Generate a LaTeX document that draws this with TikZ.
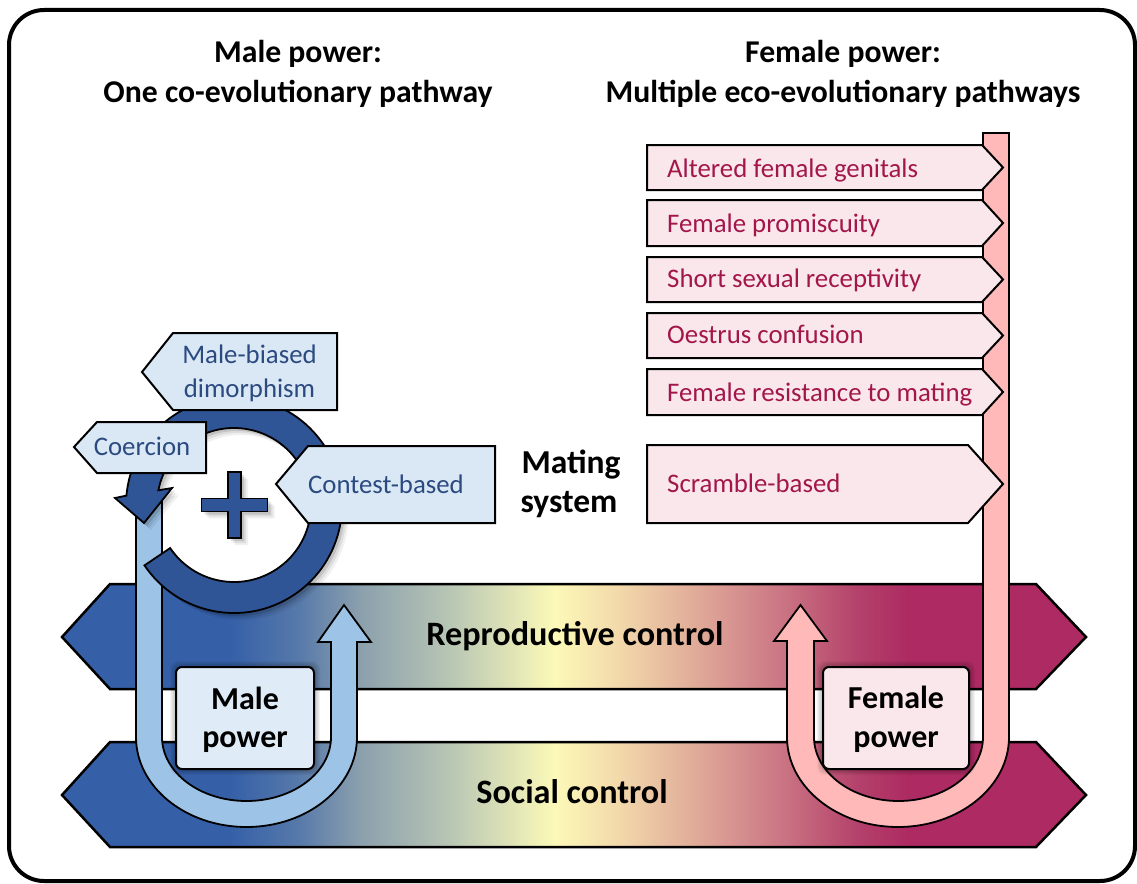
\documentclass[tikz,border=0pt]{standalone}
\usepackage{fontspec}
\setmainfont{Carlito}
\definecolor{barblue}{HTML}{3560A8}
\definecolor{gA}{HTML}{587AAA}
\definecolor{gB}{HTML}{8BA0AD}
\definecolor{gC}{HTML}{B8C6B4}
\definecolor{gD}{HTML}{FCF9B8}
\definecolor{gE}{HTML}{F2D8AA}
\definecolor{gF}{HTML}{DFA898}
\definecolor{gG}{HTML}{CB7684}
\definecolor{gH}{HTML}{B3406A}
\definecolor{barred}{HTML}{AD2A62}
\definecolor{ringblue}{HTML}{2F5597}
\definecolor{lightarrow}{HTML}{9DC3E6}
\definecolor{bluefill}{HTML}{DAE8F6}
\definecolor{bluetext}{HTML}{2B4A80}
\definecolor{pinkfill}{HTML}{F9E7EB}
\definecolor{pinktext}{HTML}{A3164A}
\definecolor{pinkarrow}{HTML}{FFB9B9}
\definecolor{malefill}{HTML}{DFEBF7}
\definecolor{femalefill}{HTML}{F9E7EC}
\pgfdeclarehorizontalshading{mfshade}{100bp}{color(0bp)=(barblue); color(25bp)=(barblue); color(33.2bp)=(barblue); color(36.6bp)=(gA); color(39.55bp)=(gB); color(43.95bp)=(gC); color(49.07bp)=(gD); color(52.25bp)=(gE); color(56.15bp)=(gF); color(60.06bp)=(gG); color(63.96bp)=(gH); color(66.4bp)=(barred); color(75bp)=(barred); color(100bp)=(barred)}
\begin{document}
\begin{tikzpicture}[x=1pt,y=-1pt,
  titletxt/.style={font=\fontsize{31.7}{39}\selectfont\bfseries, anchor=base, inner sep=0},
  boldtxt/.style={font=\fontsize{32}{40}\selectfont\bfseries, anchor=base, inner sep=0},
  bartxt/.style={font=\fontsize{34.2}{40}\selectfont\bfseries, anchor=base, inner sep=0},
  matetxt/.style={font=\fontsize{33.5}{40}\selectfont\bfseries, anchor=base, inner sep=0},
  pinktxt/.style={font=\fontsize{26.8}{32}\selectfont, text=pinktext, anchor=base west, inner sep=0},
  bluetxt/.style={font=\fontsize{26.8}{32}\selectfont, text=bluetext, anchor=base, inner sep=0},
  barshape/.style={shading=mfshade, draw=black, line width=2.5pt, line join=miter},
  pinkbox/.style={fill=pinkfill, draw=black, line width=2pt},
  bluebox/.style={fill=bluefill, draw=black, line width=2pt},
  uarrow/.style={draw=black, line width=1.8pt, line join=miter},
  powerbox/.style={draw=black, line width=2pt, rounded corners=6pt},
  ringpic/.pic={
    \path[pic actions] (144.5,565.4) arc[start angle=-214, end angle=-535, radius=108]
      -- (115,498) -- (144,523) -- (172,488) -- (158.4,490.3)
      arc[start angle=-529, end angle=-214, radius=77] -- cycle;
  },
  pluspic/.pic={
    \path[pic actions] (228,472) -- (241,472) -- (241,498.5) -- (267.5,498.5) -- (267.5,511.5)
      -- (241,511.5) -- (241,538) -- (228,538) -- (228,511.5) -- (201.5,511.5)
      -- (201.5,498.5) -- (228,498.5) -- cycle;
  }
]
\useasboundingbox (0,0) rectangle (1137,883);
% frame
\draw[line width=4pt, rounded corners=35pt] (9,10) rectangle (1135,881);

% titles
\node[titletxt] (tl1) at (298,63) {Male power:};
\node[titletxt] (tl2) at (298,102) {One co-evolutionary pathway};
\node[titletxt] (tr1) at (843,63) {Female power:};
\node[titletxt] (tr2) at (843,102) {Multiple eco-evolutionary pathways};

% bars
\path[barshape] (62,637) -- (110,584) -- (1036,584) -- (1086,637) -- (1036,689) -- (110,689) -- cycle;
\path[barshape] (62,795) -- (110,742) -- (1036,742) -- (1086,795) -- (1036,847) -- (110,847) -- cycle;
\node[bartxt] (repro) at (575,645) {Reproductive control};
\node[bartxt] (social) at (572,803) {Social control};

% female U arrow
\path[uarrow, fill=pinkarrow] (1009,133) -- (1009,737)
  arc[start angle=0, end angle=180, x radius=111, y radius=90]
  -- (787,641) -- (774,641) -- (800.5,605) -- (827,641) -- (814,641) -- (814,737)
  arc[start angle=180, end angle=0, x radius=84.5, y radius=64]
  -- (983,133) -- cycle;

% right boxes
\path[pinkbox] (647,145) -- (982,145) -- (1003,167.5) -- (982,190) -- (647,190) -- cycle;
\path[pinkbox] (647,200) -- (982,200) -- (1003,223) -- (982,246) -- (647,246) -- cycle;
\path[pinkbox] (647,257) -- (982,257) -- (1003,279.5) -- (982,302) -- (647,302) -- cycle;
\path[pinkbox] (647,313) -- (982,313) -- (1003,335.5) -- (982,358) -- (647,358) -- cycle;
\path[pinkbox] (647,369) -- (982,369) -- (1003,392) -- (982,415) -- (647,415) -- cycle;
\path[pinkbox] (647,445) -- (968,445) -- (1003,484) -- (968,523) -- (647,523) -- cycle;
\node[pinktxt] (p1) at (667,177.5) {Altered female genitals};
\node[pinktxt] (p2) at (667,232) {Female promiscuity};
\node[pinktxt] (p3) at (667,287) {Short sexual receptivity};
\node[pinktxt] (p4) at (667,343) {Oestrus confusion};
\node[pinktxt] (p5) at (667,401.5) {Female resistance to mating};
\node[pinktxt] (p6) at (667,492) {Scramble-based};

% male U arrow
\path[uarrow, fill=lightarrow] (136,500) -- (136,737)
  arc[start angle=180, end angle=0, x radius=110.5, y radius=90]
  -- (357,642) -- (371,642) -- (344,605) -- (318,642) -- (331,642) -- (331,737)
  arc[start angle=0, end angle=180, x radius=84.5, y radius=64]
  -- (162,500) -- cycle;

% ring with shadow
\foreach \s/\o in {7/0.06,5/0.08,3/0.12}{
  \pic[fill=black, opacity=\o] at (\s,\s) {ringpic};
  \pic[fill=black, opacity=\o] at (\s,\s) {pluspic};
}
\pic[fill=ringblue, draw=black, line width=1.8pt, line join=miter] at (0,0) {ringpic};
\pic[fill=ringblue, draw=black, line width=1.8pt, line join=miter] at (0,0) {pluspic};

% left boxes
\path[bluebox] (142,372) -- (173,333) -- (337,333) -- (337,410) -- (173,410) -- cycle;
\path[bluebox] (74,447) -- (97,422) -- (206,422) -- (206,473) -- (97,473) -- cycle;
\path[bluebox] (276,484) -- (308,446) -- (495,446) -- (495,523) -- (308,523) -- cycle;
\node[bluetxt] (mb1) at (249.5,363.3) {Male-biased};
\node[bluetxt] (mb2) at (249.5,397.3) {dimorphism};
\node[bluetxt] (coer) at (142,455) {Coercion};
\node[bluetxt] (cont) at (386,493.3) {Contest-based};

% mating system
\node[matetxt] (mat1) at (571,473) {Mating};
\node[matetxt] (mat2) at (569,512) {system};

% power boxes with glow
\foreach \i in {1,...,6}{
  \fill[black, opacity=0.045, rounded corners=8pt] ({176-\i},{667-\i}) rectangle ({314+\i},{769+\i});
  \fill[black, opacity=0.045, rounded corners=8pt] ({823-\i},{667-\i}) rectangle ({969+\i},{769+\i});
}
\path[powerbox, fill=malefill] (176,667) rectangle (314,769);
\path[powerbox, fill=femalefill] (823,667) rectangle (969,769);
\node[boldtxt] (mp1) at (245,709) {Male};
\node[boldtxt] (mp2) at (245,747) {power};
\node[boldtxt] (fp1) at (896,708) {Female};
\node[boldtxt] (fp2) at (896,747) {power};
\end{tikzpicture}
\end{document}
